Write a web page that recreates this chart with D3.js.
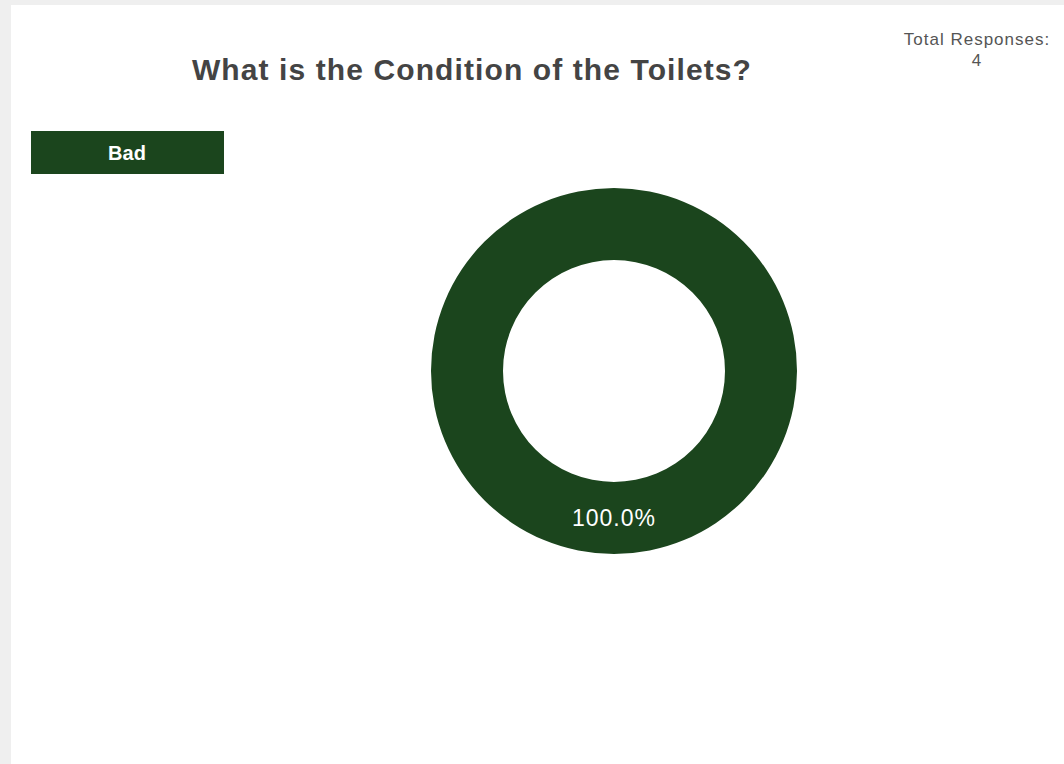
<!DOCTYPE html>
<html>
<head>
<meta charset="utf-8">
<script src="https://cdn.jsdelivr.net/npm/d3@7"></script>
<style>
  html, body { margin: 0; padding: 0; background: #efefef; }
  body { width: 1064px; height: 764px; overflow: hidden; font-family: "Liberation Sans", Arial, sans-serif; }
</style>
</head>
<body>
<svg id="chart" width="1064" height="764"></svg>
<script>
// chart data
const categories = ['Bad'];
const counts = [4];
const colors = ['#1b451d'];
const titleText = 'What is the Condition of the Toilets?';
const totalResponses = d3.sum(counts);

const svg = d3.select('#chart');

// white card
svg.append('rect')
    .attr('x', 11).attr('y', 5)
    .attr('width', 1064).attr('height', 764)
    .attr('fill', '#fff');

// title
svg.append('text')
    .attr('x', 472).attr('y', 80)
    .attr('text-anchor', 'middle')
    .attr('font-size', 30)
    .attr('font-weight', 'bold')
    .attr('letter-spacing', 1.1)
    .attr('fill', '#444')
    .text(titleText);

// total responses
const total = svg.append('text')
    .attr('text-anchor', 'middle')
    .attr('font-size', 17)
    .attr('letter-spacing', 1)
    .attr('fill', '#555');
total.append('tspan').attr('x', 977).attr('y', 45).text('Total Responses:');
total.append('tspan').attr('x', 977).attr('y', 66).text(totalResponses);

// legend
const legend = svg.append('g').attr('transform', 'translate(31,131)');
const item = legend.selectAll('g')
    .data(categories)
    .enter()
    .append('g')
    .attr('transform', (d, i) => `translate(0,${i * 50})`);
item.append('rect')
    .attr('width', 193).attr('height', 43)
    .attr('fill', (d, i) => colors[i]);
item.append('text')
    .attr('x', 96).attr('y', 29)
    .attr('text-anchor', 'middle')
    .attr('font-size', 20)
    .attr('font-weight', 'bold')
    .attr('fill', '#fff')
    .text(d => d);

// donut
const cx = 614, cy = 371;
const outerR = 183, innerR = 111;
const pie = d3.pie().value(d => d).sort(null);
const arc = d3.arc().innerRadius(innerR).outerRadius(outerR);
const pieData = pie(counts);
const g = svg.append('g').attr('transform', `translate(${cx},${cy})`);

g.selectAll('path')
    .data(pieData)
    .enter()
    .append('path')
    .attr('d', arc)
    .attr('fill', (d, i) => colors[i]);

g.selectAll('text')
    .data(pieData)
    .enter()
    .append('text')
    .attr('transform', d => `translate(${arc.centroid(d)})`)
    .attr('dy', '0.35em')
    .attr('text-anchor', 'middle')
    .attr('font-size', 23)
    .attr('letter-spacing', 1)
    .attr('fill', '#fff')
    .text(d => (100 * d.value / totalResponses).toFixed(1) + '%');
</script>
</body>
</html>
